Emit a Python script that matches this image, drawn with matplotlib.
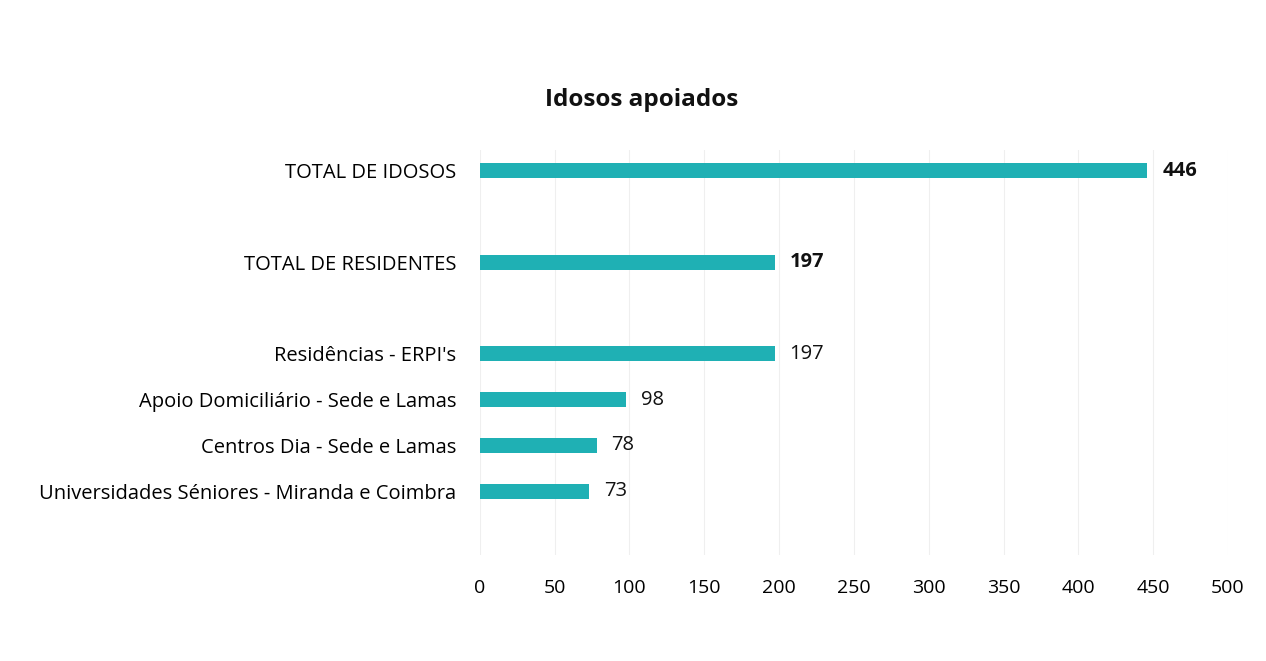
import numpy as np
import matplotlib.pyplot as plt

plt.rcParams['font.family'] = ['Open Sans', 'DejaVu Sans']

# categorias (as vazias separam os totais)
categorias = ['TOTAL DE IDOSOS', '', 'TOTAL DE RESIDENTES', '',
              "Residências - ERPI's", 'Apoio Domiciliário - Sede e Lamas',
              'Centros Dia - Sede e Lamas',
              'Universidades Séniores - Miranda e Coimbra']
valores = [446, None, 197, None, 197, 98, 78, 73]
negrito = [True, False, True, False, False, False, False, False]
ticks_x = [0, 50, 100, 150, 200, 250, 300, 350, 400, 450, 500]

cor = '#1fb0b4'

fig = plt.figure(figsize=(12.66, 6.61), dpi=100)
ax = fig.add_axes([0.379, 0.16, 0.591, 0.613])

y = np.arange(len(categorias))
for yi, v, b in zip(y, valores, negrito):
    if v is None:
        continue
    ax.barh(yi, v, height=0.33, color=cor)
    ax.text(v + 10, yi, str(v), va='center', ha='left', fontsize=14.5,
            fontweight='bold' if b else 'normal', color='#111111')

ax.set_xlim(0, 500)
ax.set_ylim(8.4, -0.45)
ax.set_xticks(ticks_x)
ax.set_yticks(y)
ax.set_yticklabels(categorias, fontsize=14.5)
ax.tick_params(axis='x', labelsize=14, length=0, pad=17)
ax.tick_params(axis='y', length=0, pad=17)
ax.grid(axis='x', color='#efefef', linewidth=0.8)
ax.set_axisbelow(True)
for s in ax.spines.values():
    s.set_visible(False)

fig.text(0.507, 0.849, 'Idosos apoiados', ha='center', va='center',
         fontsize=17.5, fontweight='bold', color='#111111')

fig.savefig('out.png', dpi=100)
